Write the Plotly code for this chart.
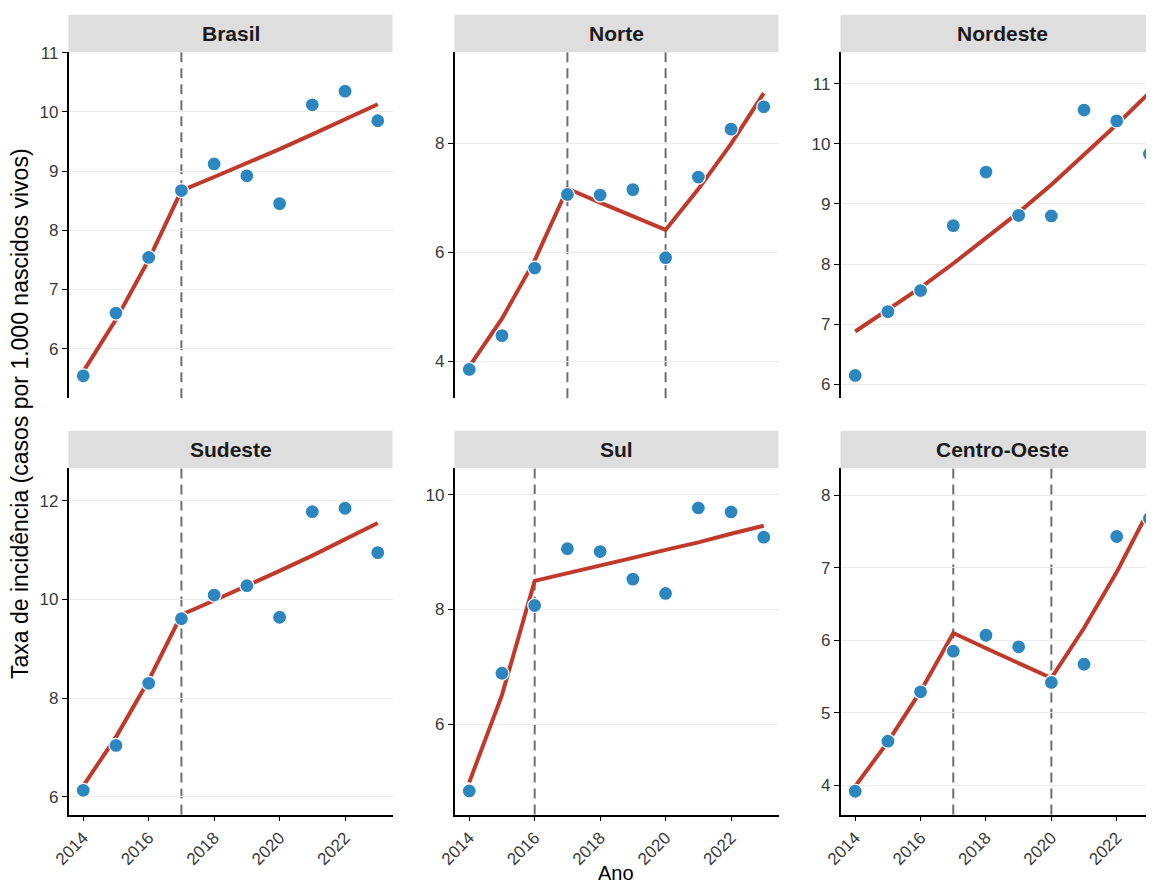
import plotly.graph_objects as go

# ---------------- data ----------------
years = [2014, 2015, 2016, 2017, 2018, 2019, 2020, 2021, 2022, 2023]
regions = ["Brasil", "Norte", "Nordeste", "Sudeste", "Sul", "Centro-Oeste"]

rate_brasil = [5.54, 6.60, 7.54, 8.67, 9.12, 8.92, 8.45, 10.12, 10.35, 9.85]
rate_norte = [3.85, 4.47, 5.71, 7.06, 7.05, 7.15, 5.90, 7.38, 8.26, 8.67]
rate_nordeste = [6.15, 7.21, 7.56, 8.64, 9.53, 8.81, 8.80, 10.56, 10.38, 9.83]
rate_sudeste = [6.13, 7.04, 8.30, 9.61, 10.09, 10.28, 9.64, 11.78, 11.85, 10.95]
rate_sul = [4.84, 6.89, 8.07, 9.06, 9.01, 8.53, 8.28, 9.77, 9.70, 9.26]
rate_centro_oeste = [3.92, 4.61, 5.29, 5.85, 6.07, 5.91, 5.42, 5.67, 7.43, 7.68]

fit_brasil = [5.61, 6.49, 7.50, 8.67, 8.90, 9.13, 9.37, 9.62, 9.87, 10.13]
fit_norte = [3.90, 4.78, 5.85, 7.17, 6.91, 6.65, 6.41, 7.16, 7.99, 8.92]
fit_nordeste = [6.88, 7.24, 7.61, 8.01, 8.43, 8.86, 9.32, 9.81, 10.32, 10.85]
fit_sudeste = [6.22, 7.21, 8.36, 9.69, 9.98, 10.27, 10.58, 10.89, 11.22, 11.55]
fit_sul = [4.99, 6.51, 8.50, 8.63, 8.76, 8.90, 9.04, 9.17, 9.32, 9.46]
fit_centro_oeste = [3.99, 4.60, 5.30, 6.10, 5.89, 5.68, 5.48, 6.17, 6.94, 7.81]

breaks_brasil = [2017]
breaks_norte = [2017, 2020]
breaks_nordeste = []
breaks_sudeste = [2017]
breaks_sul = [2016]
breaks_centro_oeste = [2017, 2020]

x_tick_vals = [2014, 2016, 2018, 2020, 2022]
y_ticks_brasil = [6, 7, 8, 9, 10, 11]
y_ticks_norte = [4, 6, 8]
y_ticks_nordeste = [6, 7, 8, 9, 10, 11]
y_ticks_sudeste = [6, 8, 10, 12]
y_ticks_sul = [6, 8, 10]
y_ticks_centro_oeste = [4, 5, 6, 7, 8]

y_title = "Taxa de incidência (casos por 1.000 nascidos vivos)"
x_title = "Ano"

# ---------------- styling / layout ----------------
OFF = 8  # default page body margin
W, H = 1154 - OFF, 886 - OFF
FONT = "Liberation Sans, Arial, Helvetica, sans-serif"
POINT_COLOR = "#2C86C0"
LINE_COLOR = "#C0392B"
STRIP_BG = "#DEDEDE"
TICK_COLOR = "#3A3A3A"

rates = [rate_brasil, rate_norte, rate_nordeste, rate_sudeste, rate_sul, rate_centro_oeste]
fits = [fit_brasil, fit_norte, fit_nordeste, fit_sudeste, fit_sul, fit_centro_oeste]
breaks = [breaks_brasil, breaks_norte, breaks_nordeste, breaks_sudeste, breaks_sul, breaks_centro_oeste]
yticks = [y_ticks_brasil, y_ticks_norte, y_ticks_nordeste, y_ticks_sudeste, y_ticks_sul, y_ticks_centro_oeste]
y_ranges = [[5.16, 11.007], [3.32, 9.67], [5.77, 11.52], [5.64, 12.66], [4.43, 10.46], [3.60, 8.37]]

# pixel positions in screenshot coordinates
col_px = [(68.5, 392.5), (454.5, 778.5), (840.5, 1154)]
col_xrange = [[2013.55, 2023.45], [2013.55, 2023.45], [2013.55, 2023.14]]
row_px = [(52.3, 398.3), (468.3, 814.5)]
strip_h = 37.5


def px_x(v):
    return (v - OFF) / W


def px_y(v):
    return 1 - (v - OFF) / H


fig = go.Figure()
layout = dict(
    width=W, height=H,
    margin=dict(l=0, r=0, t=0, b=0, autoexpand=False),
    paper_bgcolor="white", plot_bgcolor="white",
    showlegend=False,
    font=dict(family=FONT, color="black"),
)
shapes = []
annotations = []

for i, name in enumerate(regions):
    r, c = divmod(i, 3)
    k = i + 1
    xa = "x" if k == 1 else f"x{k}"
    ya = "y" if k == 1 else f"y{k}"
    x0p, x1p = col_px[c]
    y0p, y1p = row_px[r]
    xdom = [max(0.0, px_x(x0p)), min(1.0, px_x(x1p))]
    ydom = [px_y(y1p), px_y(y0p)]

    bottom = (r == 1)
    layout[f"xaxis{k if k > 1 else ''}"] = dict(
        domain=xdom, anchor=ya, range=col_xrange[c], automargin=False,
        tickvals=x_tick_vals if bottom else [],
        showticklabels=bottom, ticks="outside" if bottom else "",
        ticklen=5, tickwidth=1.3, tickcolor="black",
        tickangle=-45, tickfont=dict(size=17, color=TICK_COLOR, family=FONT),
        showline=bottom, linecolor="black", linewidth=1.5,
        showgrid=False, zeroline=False,
    )
    layout[f"yaxis{k if k > 1 else ''}"] = dict(
        domain=ydom, anchor=xa, range=y_ranges[i], automargin=False,
        tickvals=yticks[i], ticks="outside", ticklen=5, tickwidth=1.3, tickcolor="black",
        tickfont=dict(size=17, color=TICK_COLOR, family=FONT),
        showline=True, linecolor="black", linewidth=1.5,
        showgrid=True, gridcolor="#EBEBEB", gridwidth=1, zeroline=False,
    )

    for b in breaks[i]:
        shapes.append(dict(
            type="line", xref=xa, yref=f"{ya} domain", x0=b, x1=b, y0=0, y1=1,
            line=dict(color="#6E6E6E", width=2, dash="10px,6px"), layer="below",
        ))

    fig.add_trace(go.Scatter(
        x=years, y=fits[i], mode="lines", xaxis=xa, yaxis=ya,
        line=dict(color=LINE_COLOR, width=4), hoverinfo="skip",
    ))
    fig.add_trace(go.Scatter(
        x=years, y=rates[i], mode="markers", xaxis=xa, yaxis=ya,
        marker=dict(color=POINT_COLOR, size=14, line=dict(color="white", width=1.2)),
    ))

    # strip
    shapes.append(dict(
        type="rect", xref="paper", yref="paper",
        x0=xdom[0], x1=xdom[1], y0=ydom[1], y1=px_y(y0p - strip_h),
        fillcolor=STRIP_BG, line=dict(width=0), layer="below",
    ))
    annotations.append(dict(
        text=f"<b>{name}</b>", xref="paper", yref="paper",
        x=px_x(x0p + 162), y=px_y(y0p - strip_h / 2),
        xanchor="center", yanchor="middle", showarrow=False,
        font=dict(size=21, color="#1A1A1A", family=FONT),
    ))

annotations.append(dict(
    text=y_title, xref="paper", yref="paper", x=px_x(20), y=px_y(414),
    xanchor="center", yanchor="middle", textangle=-90, showarrow=False,
    font=dict(size=23, color="black", family=FONT),
))
annotations.append(dict(
    text=x_title, xref="paper", yref="paper", x=px_x(616), y=px_y(873),
    xanchor="center", yanchor="middle", showarrow=False,
    font=dict(size=20, color="black", family=FONT),
))

layout["shapes"] = shapes
layout["annotations"] = annotations
fig.update_layout(**layout)
fig.write_html("out.html")
